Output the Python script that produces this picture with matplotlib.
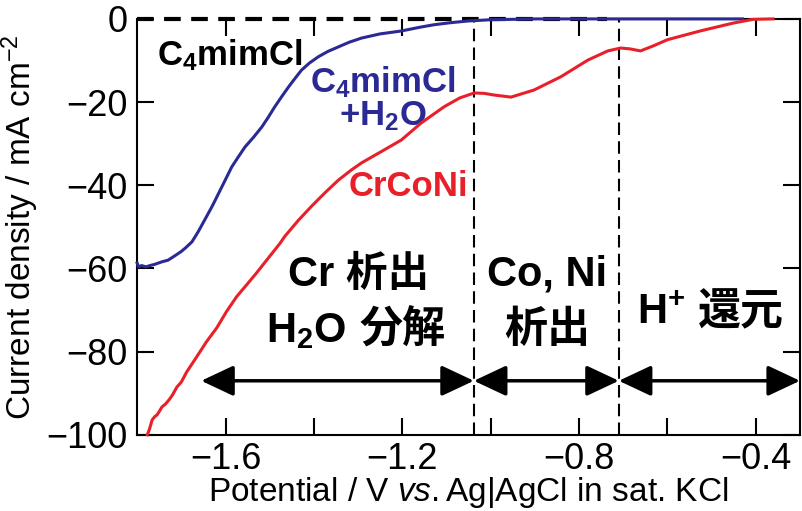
import numpy as np
import matplotlib
matplotlib.use("Agg")
import matplotlib.pyplot as plt

plt.rcParams['font.family'] = ['Liberation Sans', 'Noto Sans CJK JP', 'DejaVu Sans']
plt.rcParams['mathtext.fontset'] = 'custom'
plt.rcParams['mathtext.rm'] = 'Liberation Sans'
plt.rcParams['mathtext.it'] = 'Liberation Sans:italic'
plt.rcParams['mathtext.bf'] = 'Liberation Sans:bold'

# C4mimCl (dry) - stays at zero
pot_dry = [-1.80, -1.50, -1.20, -1.00, -0.736]
cur_dry = [0.0, 0.0, 0.0, 0.0, 0.0]

# C4mimCl + H2O
pot_wet = [-1.800, -1.797, -1.790, -1.780, -1.771, -1.760, -1.744, -1.730, -1.714,
           -1.700, -1.690, -1.676, -1.662, -1.647, -1.630, -1.615, -1.600, -1.586,
           -1.570, -1.556, -1.537, -1.518, -1.503, -1.489, -1.473, -1.457, -1.442,
           -1.428, -1.410, -1.390, -1.368, -1.344, -1.320, -1.292, -1.250, -1.202,
           -1.160, -1.128, -1.090, -1.051, -1.000, -0.900, -0.700, -0.500, -0.430]
cur_wet = [-58.7, -59.6, -59.3, -59.6, -59.3, -59.0, -58.4, -58.0, -56.9,
           -55.9, -55.0, -53.6, -51.2, -48.3, -45.0, -41.8, -38.6, -35.6,
           -33.0, -30.8, -28.5, -26.0, -23.6, -21.2, -18.7, -16.3, -14.2,
           -12.3, -10.6, -9.1, -7.8, -6.7, -5.6, -4.6, -3.6, -2.9,
           -2.0, -1.4, -0.9, -0.5, -0.2, 0.0, 0.0, 0.0, 0.0]

# CrCoNi
pot_alloy = [-1.777, -1.772, -1.766, -1.760, -1.755, -1.750, -1.744, -1.736, -1.728,
             -1.720, -1.710, -1.700, -1.688, -1.665, -1.643, -1.620, -1.598, -1.575,
             -1.552, -1.530, -1.507, -1.477, -1.466, -1.435, -1.405, -1.375, -1.344,
             -1.315, -1.292, -1.241, -1.202, -1.157, -1.105, -1.070, -1.037, -1.015,
             -0.992, -0.954, -0.902, -0.841, -0.780, -0.735, -0.706, -0.685, -0.661,
             -0.630, -0.600, -0.526, -0.451, -0.406, -0.361]
cur_alloy = [-100.0, -98.6, -96.4, -95.6, -95.2, -94.4, -93.3, -92.6, -91.6,
             -90.4, -88.5, -87.3, -84.9, -81.2, -77.6, -74.3, -70.4, -66.8,
             -63.9, -61.1, -58.0, -54.0, -52.3, -48.4, -45.0, -41.8, -38.7,
             -36.3, -34.6, -31.5, -29.1, -25.0, -21.1, -19.0, -17.8, -17.9,
             -18.3, -18.8, -17.1, -13.9, -9.9, -7.7, -7.0, -7.2, -7.7,
             -6.4, -5.0, -2.9, -1.0, -0.1, 0.0]

boundaries = [-1.038, -0.71]
arrow_y = -87
arrow_spans = [(-1.655, -1.038), (-1.038, -0.71), (-0.71, -0.30)]

fig = plt.figure(figsize=(8.02, 5.11), dpi=100)
ax = fig.add_axes([0.171, 0.149, 0.8265, 0.814])

blue = '#2b2a94'
red = '#e8202a'

ax.plot(pot_dry, cur_dry, color='black', lw=3.0, ls=(0, (4, 2.5)), zorder=3, clip_on=False)
ax.plot(pot_wet, cur_wet, color=blue, lw=2.2, zorder=4, clip_on=False)
ax.plot(pot_alloy, cur_alloy, color=red, lw=2.2, zorder=4, clip_on=False)

for b in boundaries:
    ax.axvline(b, color='black', lw=1.5, ls=(0, (6, 3)), zorder=2)

for x0, x1 in arrow_spans:
    ax.annotate('', xy=(x1, arrow_y), xytext=(x0, arrow_y),
                arrowprops=dict(arrowstyle='<|-|>,head_length=1.0,head_width=0.47',
                                color='black', lw=2.5, mutation_scale=20,
                                shrinkA=0, shrinkB=0))

ax.set_xlim(-1.8, -0.3)
ax.set_ylim(-100, 0)

xt = [-1.6, -1.4, -1.2, -1.0, -0.8, -0.6, -0.4]
xl = ['\u22121.6', '', '\u22121.2', '', '\u22120.8', '', '\u22120.4']
ax.set_xticks(xt)
ax.set_xticklabels(xl)
yt = [0, -20, -40, -60, -80, -100]
ax.set_yticks(yt)
ax.set_yticklabels(['0' if v == 0 else '\u2212%d' % abs(v) for v in yt])

ax.tick_params(direction='in', length=12, width=1.5, top=True, right=True,
               labelsize=26, pad=7)
ax.tick_params(axis='x', pad=5)
for s in ax.spines.values():
    s.set_linewidth(1.5)
# top spine only where the dashed zero line does not run
ax.spines['top'].set_bounds(-0.736, -0.3)

ax.set_xlabel(r'Potential / V $\mathit{vs.}$Ag|AgCl in sat. KCl', fontsize=24, labelpad=-1)
ax.set_ylabel(r'Current density / mA cm$^{-2}$', fontsize=24, labelpad=4)

ax.text(-1.755, -8.7, r'C$_{\mathbf{4}}$mimCl', fontsize=25, fontweight='bold',
        color='black', ha='left', va='center')
ax.text(-1.245, -19.2, 'C$_{\\mathbf{4}}$mimCl\n+H$_{\\mathbf{2}}$O', fontsize=25,
        fontweight='bold', color=blue, ha='center', va='center', linespacing=1.0)
ax.text(-1.186, -40.4, 'CrCoNi', fontsize=25, fontweight='bold', color=red,
        ha='center', va='center')

big = 30
cjk = 31
ax.text(-1.30, -61.5, 'Cr 析出', fontsize=big, fontweight='bold',
        ha='center', va='center')
ax.text(-1.326, -75.0, 'H$_{\\mathbf{2}}$O', fontsize=big, fontweight='bold',
        ha='right', va='center')
ax.text(-1.297, -75.0, '分解', fontsize=cjk, fontweight='bold',
        ha='left', va='center')
ax.text(-0.873, -61.5, 'Co, Ni', fontsize=big, fontweight='bold',
        ha='center', va='center')
ax.text(-0.873, -75.0, '析出', fontsize=cjk, fontweight='bold',
        ha='center', va='center')
ax.text(-0.559, -70.7, 'H$^{\\mathbf{+}}$', fontsize=big, fontweight='bold',
        ha='right', va='center')
ax.text(-0.530, -70.7, '還元', fontsize=cjk, fontweight='bold',
        ha='left', va='center')

fig.savefig('out.png', dpi=100)
